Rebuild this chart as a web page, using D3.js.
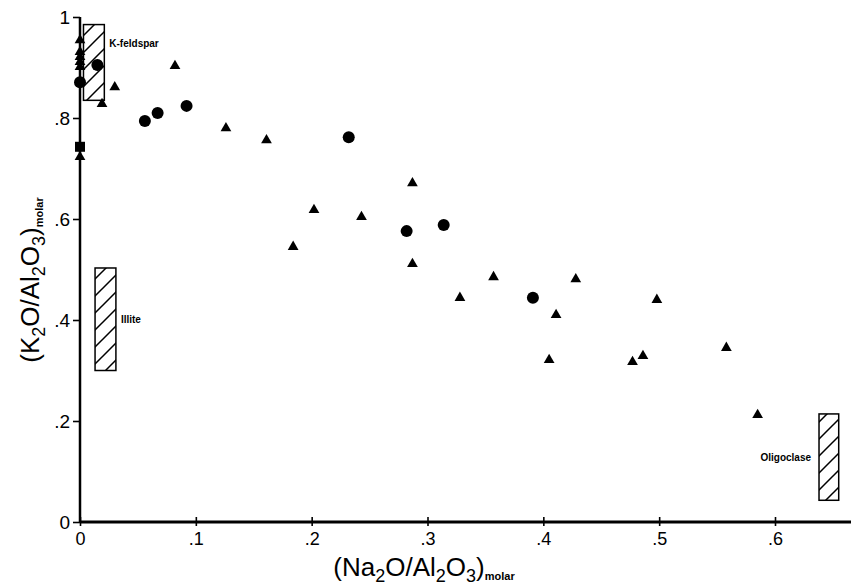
<!DOCTYPE html>
<html>
<head>
<meta charset="utf-8">
<script src="https://cdn.jsdelivr.net/npm/d3@7"></script>
<style>
  body { margin: 0; background: #fff; }
  text { font-family: "Liberation Sans", Arial, sans-serif; fill: #000; }
</style>
</head>
<body>
<div id="chart"></div>
<script>
// Samples plotted as circles
const circleX = [0.000, 0.015, 0.056, 0.067, 0.092, 0.232, 0.282, 0.314, 0.391];
const circleY = [0.871, 0.905, 0.794, 0.810, 0.824, 0.762, 0.576, 0.588, 0.444];

// Samples plotted as triangles
const triX = [0.000, 0.000, 0.000, 0.000, 0.000, 0.000, 0.019, 0.030, 0.082, 0.126,
              0.161, 0.287, 0.202, 0.243, 0.184, 0.287, 0.357, 0.328, 0.428, 0.498,
              0.411, 0.405, 0.486, 0.477, 0.558, 0.585];
const triY = [0.954, 0.931, 0.921, 0.911, 0.901, 0.723, 0.828, 0.861, 0.903, 0.780,
              0.756, 0.671, 0.618, 0.604, 0.545, 0.511, 0.485, 0.444, 0.481, 0.440,
              0.410, 0.321, 0.329, 0.317, 0.345, 0.212];

// Sample plotted as a square
const squareX = [0.000];
const squareY = [0.743];

// Mineral fields (hatched boxes)
const fieldNames = ["K-feldspar", "Illite", "Oligoclase"];
const fieldX0 = [0.003, 0.013, 0.638];
const fieldX1 = [0.021, 0.031, 0.655];
const fieldY0 = [0.835, 0.300, 0.043];
const fieldY1 = [0.985, 0.503, 0.214];

const xTicks = [0, 0.1, 0.2, 0.3, 0.4, 0.5, 0.6];
const yTicks = [0, 0.2, 0.4, 0.6, 0.8, 1];
const tickLabel = d => d === 0 ? "0" : d === 1 ? "1" : String(d).replace(/^0/, "");

const width = 851, height = 586;

const svg = d3.select("#chart").append("svg")
    .attr("width", width)
    .attr("height", height);

const x = d3.scaleLinear().domain([0, 0.6]).range([80, 775]);
const y = d3.scaleLinear().domain([0, 1]).range([522, 17]);

// hatch pattern for the mineral fields
svg.append("defs").append("pattern")
    .attr("id", "hatch")
    .attr("patternUnits", "userSpaceOnUse")
    .attr("width", 17)
    .attr("height", 17)
    .append("path")
    .attr("d", "M-2,19 L19,-2 M-2,2 L2,-2 M15,19 L19,15")
    .attr("stroke", "#000")
    .attr("stroke-width", 1.5);

// y axis
const yAxis = svg.append("g")
    .attr("transform", `translate(${x(0)},0)`)
    .call(d3.axisLeft(y).tickValues(yTicks).tickFormat(tickLabel).tickSize(7).tickPadding(3));
yAxis.select(".domain").attr("d", `M0,${y(0)}V${y(1)}`).attr("stroke-width", 2.5);
yAxis.selectAll(".tick line").attr("stroke-width", 1.6);
yAxis.selectAll(".tick text").style("font-size", "19px");

// x axis
const xAxis = svg.append("g")
    .attr("transform", `translate(0,${y(0)})`)
    .call(d3.axisBottom(x).tickValues(xTicks).tickFormat(tickLabel).tickSizeInner(4).tickSizeOuter(0).tickPadding(6));
xAxis.select(".domain").attr("d", `M${x(0)},0H${width}`).attr("stroke-width", 2.8);
xAxis.selectAll(".tick line").attr("y1", -5).attr("stroke-width", 1.6);
xAxis.selectAll(".tick text").style("font-size", "18px");

// axis titles
const titleHtml = main => `(${main}<tspan dy="6" font-size="18">2</tspan><tspan dy="-6">O/Al</tspan><tspan dy="6" font-size="18">2</tspan><tspan dy="-6">O</tspan><tspan dy="6" font-size="18">3</tspan><tspan dy="-6">)</tspan><tspan dy="4" font-size="11" font-weight="bold">molar</tspan>`;

svg.append("text")
    .attr("x", 424)
    .attr("y", 576)
    .attr("text-anchor", "middle")
    .style("font-size", "26px")
    .html(titleHtml("Na"));

svg.append("text")
    .attr("transform", "translate(39,280) rotate(-90)")
    .attr("text-anchor", "middle")
    .style("font-size", "26px")
    .html(titleHtml("K"));

// mineral fields
const fields = fieldNames.map((n, i) => ({ name: n, x0: fieldX0[i], x1: fieldX1[i], y0: fieldY0[i], y1: fieldY1[i] }));

svg.selectAll(".field")
    .data(fields)
    .enter().append("rect")
    .attr("class", "field")
    .attr("x", d => x(d.x0))
    .attr("y", d => y(d.y1))
    .attr("width", d => x(d.x1) - x(d.x0))
    .attr("height", d => y(d.y0) - y(d.y1))
    .attr("fill", "url(#hatch)")
    .attr("stroke", "#000")
    .attr("stroke-width", 1.5);

svg.selectAll(".field-label")
    .data(fields)
    .enter().append("text")
    .attr("class", "field-label")
    .attr("x", d => d.name === "Oligoclase" ? x(d.x0) - 8 : x(d.x1) + 5)
    .attr("y", d => d.name === "K-feldspar" ? y(d.y1) + 22 : y((d.y0 + d.y1) / 2) + 4)
    .attr("text-anchor", d => d.name === "Oligoclase" ? "end" : "start")
    .style("font-size", "10px")
    .style("font-weight", "bold")
    .text(d => d.name);

// points
const symbolPath = (type, size) => d3.symbol().type(type).size(size)();

svg.selectAll(".tri")
    .data(triX.map((v, i) => [v, triY[i]]))
    .enter().append("path")
    .attr("class", "tri")
    .attr("transform", d => `translate(${x(d[0])},${y(d[1])})`)
    .attr("d", symbolPath(d3.symbolTriangle, 50))
    .attr("fill", "#000");

svg.selectAll(".dot")
    .data(circleX.map((v, i) => [v, circleY[i]]))
    .enter().append("circle")
    .attr("class", "dot")
    .attr("cx", d => x(d[0]))
    .attr("cy", d => y(d[1]))
    .attr("r", 6)
    .attr("fill", "#000");

svg.selectAll(".sq")
    .data(squareX.map((v, i) => [v, squareY[i]]))
    .enter().append("path")
    .attr("class", "sq")
    .attr("transform", d => `translate(${x(d[0])},${y(d[1])})`)
    .attr("d", symbolPath(d3.symbolSquare, 100))
    .attr("fill", "#000");
</script>
</body>
</html>
